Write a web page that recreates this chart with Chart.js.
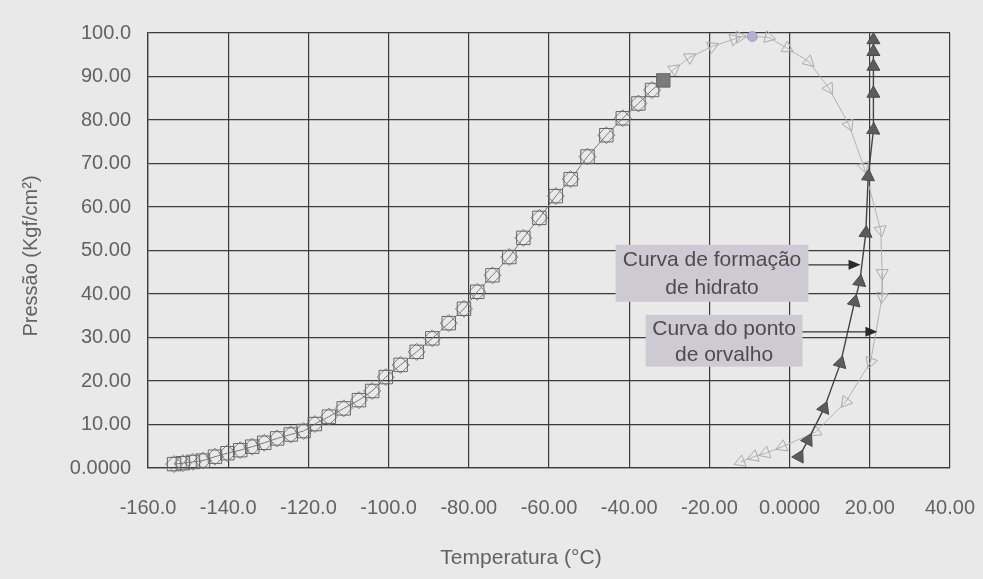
<!DOCTYPE html>
<html>
<head>
<meta charset="utf-8">
<script src="https://cdn.jsdelivr.net/npm/chart.js@4"></script>
<style>
  html, body { margin: 0; padding: 0; background: #e9e9e9; }
  canvas { display: block; }
</style>
</head>
<body>
<canvas id="diagrama" width="983" height="579"></canvas>
<script>
// Curva de bolha (lado esquerdo do envelope de fases)
const bubbleTemp  = [-153.5, -151.3, -148.8, -146.3, -143.3, -140.2, -137.0, -134.0, -131.0, -127.8,
                     -124.4, -121.2, -118.4, -114.9, -111.2, -107.4, -104.1, -100.7, -97.0, -93.0,
                     -89.1, -85.0, -81.2, -77.9, -74.1, -69.9, -66.4, -62.4, -58.3, -54.6,
                     -50.4, -45.7, -41.6, -37.7, -34.3, -31.5];
const bubblePress = [0.9, 1.1, 1.4, 1.7, 2.6, 3.4, 4.1, 4.9, 5.8, 6.8,
                     7.7, 8.5, 10.1, 11.8, 13.7, 15.6, 17.7, 20.9, 23.7, 26.7,
                     29.8, 33.3, 36.6, 40.5, 44.3, 48.5, 52.9, 57.5, 62.5, 66.4,
                     71.6, 76.5, 80.4, 83.8, 86.9, 89.1];

// Curva do ponto de orvalho
const dewTemp  = [-28.8, -24.9, -19.3, -13.8, -12.4, -5.2, -0.6, 4.8, 9.8, 14.8,
                  18.5, 22.7, 23.1, 23.1, 20.2, 14.0, 6.5, -1.8, -6.0, -8.9, -12.2];
const dewPress = [91.7, 94.4, 96.9, 98.6, 99.1, 99.0, 96.5, 93.4, 87.3, 78.9,
                  69.3, 54.7, 44.8, 39.4, 24.4, 15.2, 8.3, 4.9, 3.4, 2.6, 1.4];

// Ponto crítico
const criticalTemp  = [-9.3];
const criticalPress = [99.2];

// Curva de formação de hidrato
const hydrateTemp  = [2.4, 4.6, 8.6, 12.7, 16.2, 17.5, 19.0, 19.6, 20.9, 20.9, 20.9, 20.9, 20.9];
const hydratePress = [2.6, 6.4, 13.7, 24.1, 38.2, 42.8, 54.0, 67.0, 77.7, 86.1, 92.3, 95.7, 98.4];

// Rótulos dos eixos
const xTickLabels = ['-160.0', '-140.0', '-120.0', '-100.0', '-80.00', '-60.00', '-40.00', '-20.00', '0.0000', '20.00', '40.00'];
const yTickLabels = ['0.0000', '10.00', '20.00', '30.00', '40.00', '50.00', '60.00', '70.00', '80.00', '90.00', '100.0'];
const xTitle = 'Temperatura (°C)';
const yTitle = 'Pressão (Kgf/cm²)';
const callouts = [
  { lines: ['Curva de formação', 'de hidrato'], box: [-43.4, 51.3, 4.7, 38.2], arrowY: 46.7, tipX: 17.7 },
  { lines: ['Curva do ponto', 'de orvalho'],    box: [-35.9, 35.2, 3.2, 23.3], arrowY: 31.3, tipX: 21.9 }
];

const pts = (xs, ys) => xs.map((x, i) => ({ x, y: ys[i] }));

const bubblePts = pts(bubbleTemp, bubblePress);
const dewPts = pts(dewTemp, dewPress);
const critPts = pts(criticalTemp, criticalPress);
const hydratePts = pts(hydrateTemp, hydratePress);

// Linha do orvalho: parte do último ponto da bolha e passa pelo ponto crítico
const splitAt = dewTemp.findIndex(t => t > criticalTemp[0]);
const dewLine = [bubblePts[bubblePts.length - 1]]
  .concat(dewPts.slice(0, splitAt), critPts, dewPts.slice(splitAt));

// Orienta cada triângulo na direção da curva
function tangentRotation(ctx) {
  const data = ctx.dataset.data;
  const i = ctx.dataIndex;
  const sx = ctx.chart.scales.x, sy = ctx.chart.scales.y;
  const a = data[Math.max(i - 1, 0)], b = data[Math.min(i + 1, data.length - 1)];
  const dx = sx.getPixelForValue(b.x) - sx.getPixelForValue(a.x);
  const dy = sy.getPixelForValue(b.y) - sy.getPixelForValue(a.y);
  return Math.atan2(dx, -dy) * 180 / Math.PI;
}

const FONT = "'Liberation Sans', Arial, sans-serif";
const TEXT = '#626262';
const GRID = '#3c3c3c';

const backgroundPlugin = {
  id: 'fundo',
  beforeDraw(chart) {
    const c = chart.ctx;
    c.save();
    c.fillStyle = '#e9e9e9';
    c.fillRect(0, 0, chart.width, chart.height);
    c.restore();
  }
};

const titlesPlugin = {
  id: 'titulos',
  afterDraw(chart) {
    const c = chart.ctx;
    c.save();
    c.fillStyle = TEXT;
    c.font = '21px ' + FONT;
    c.textAlign = 'center';
    c.textBaseline = 'alphabetic';
    c.fillText(xTitle, 521, 564);
    c.translate(37, 256);
    c.rotate(-Math.PI / 2);
    c.font = '20px ' + FONT;
    c.fillText(yTitle, 0, 0);
    c.restore();
  }
};

const calloutPlugin = {
  id: 'chamadas',
  afterDatasetsDraw(chart) {
    const c = chart.ctx;
    const sx = chart.scales.x, sy = chart.scales.y;
    c.save();
    callouts.forEach(co => {
      const x0 = sx.getPixelForValue(co.box[0]), y0 = sy.getPixelForValue(co.box[1]);
      const x1 = sx.getPixelForValue(co.box[2]), y1 = sy.getPixelForValue(co.box[3]);
      c.fillStyle = '#cdcad3';
      c.fillRect(x0, y0, x1 - x0, y1 - y0);
      c.fillStyle = '#4c4c4c';
      c.font = '21px ' + FONT;
      c.textAlign = 'center';
      c.textBaseline = 'middle';
      const cx = (x0 + x1) / 2, h = (y1 - y0) / 2;
      c.fillText(co.lines[0], cx, y0 + h * 0.5 + 1);
      c.fillText(co.lines[1], cx, y0 + h * 1.5 + 1);
      const ay = sy.getPixelForValue(co.arrowY);
      const tx = sx.getPixelForValue(co.tipX);
      c.strokeStyle = '#333';
      c.lineWidth = 1.3;
      c.beginPath();
      c.moveTo(x1, ay);
      c.lineTo(tx - 10, ay);
      c.stroke();
      c.fillStyle = '#2a2a2a';
      c.beginPath();
      c.moveTo(tx, ay);
      c.lineTo(tx - 12, ay - 5);
      c.lineTo(tx - 12, ay + 5);
      c.closePath();
      c.fill();
    });
    c.restore();
  }
};

new Chart(document.getElementById('diagrama'), {
  type: 'scatter',
  data: {
    datasets: [
      {
        label: 'Ponto crítico',
        data: critPts,
        pointStyle: 'circle',
        pointRadius: 5,
        pointBackgroundColor: '#b9aed2',
        pointBorderColor: '#a89cc4',
        pointBorderWidth: 1,
        showLine: false,
        clip: false,
        order: 0
      },
      {
        label: 'Curva de formação de hidrato',
        data: hydratePts,
        showLine: true,
        borderColor: '#444',
        borderWidth: 1.4,
        pointStyle: 'triangle',
        pointRadius: 7.5,
        pointBackgroundColor: '#5c5c5c',
        pointBorderColor: '#4a4a4a',
        pointBorderWidth: 1,
        pointRotation: tangentRotation,
        clip: false,
        order: 1
      },
      {
        label: 'Curva de bolha',
        data: bubblePts,
        showLine: true,
        borderColor: '#7a7a7a',
        borderWidth: 1,
        pointStyle: 'rect',
        pointRadius: 9.5,
        pointBackgroundColor: ctx => ctx.dataIndex === bubblePts.length - 1 ? '#7a7a7a' : 'rgba(0,0,0,0)',
        pointBorderColor: '#666',
        pointBorderWidth: 1,
        clip: false,
        order: 2
      },
      {
        label: 'Curva de bolha (losango)',
        data: bubblePts,
        showLine: false,
        pointStyle: 'rectRot',
        pointRadius: ctx => ctx.dataIndex === bubblePts.length - 1 ? 0 : 8.5,
        pointBackgroundColor: 'rgba(0,0,0,0)',
        pointBorderColor: '#808080',
        pointBorderWidth: 1,
        clip: false,
        order: 3
      },
      {
        label: 'Curva do ponto de orvalho',
        data: dewPts,
        showLine: false,
        pointStyle: 'triangle',
        pointRadius: 7,
        pointBackgroundColor: 'rgba(0,0,0,0)',
        pointBorderColor: '#ababab',
        pointBorderWidth: 1,
        pointRotation: tangentRotation,
        clip: false,
        order: 4
      },
      {
        label: 'Linha de orvalho',
        data: dewLine,
        showLine: true,
        borderColor: '#b3b3b3',
        borderWidth: 1,
        pointRadius: 0,
        clip: false,
        order: 5
      }
    ]
  },
  options: {
    responsive: false,
    animation: false,
    events: [],
    layout: { padding: { top: 33, right: 33, left: 0, bottom: 0 } },
    plugins: {
      legend: { display: false },
      tooltip: { enabled: false }
    },
    scales: {
      x: {
        type: 'linear',
        min: -160,
        max: 40,
        ticks: {
          stepSize: 20,
          autoSkip: false,
          maxRotation: 0,
          padding: 28,
          color: TEXT,
          font: { family: FONT, size: 20 },
          callback: (v, i) => xTickLabels[i]
        },
        grid: { color: GRID, lineWidth: 1.2, drawTicks: false },
        border: { color: GRID, width: 1.3 },
        afterFit: s => { s.height = 111; s.paddingLeft = 0; s.paddingRight = 0; }
      },
      y: {
        type: 'linear',
        min: 0,
        max: 100,
        ticks: {
          stepSize: 10,
          autoSkip: false,
          padding: 17,
          color: TEXT,
          font: { family: FONT, size: 20 },
          callback: (v, i) => yTickLabels[i]
        },
        grid: { color: GRID, lineWidth: 1.2, drawTicks: false },
        border: { color: GRID, width: 1.3 },
        afterFit: s => { s.width = 148; s.paddingTop = 0; s.paddingBottom = 0; }
      }
    }
  },
  plugins: [backgroundPlugin, calloutPlugin, titlesPlugin]
});
</script>
</body>
</html>
